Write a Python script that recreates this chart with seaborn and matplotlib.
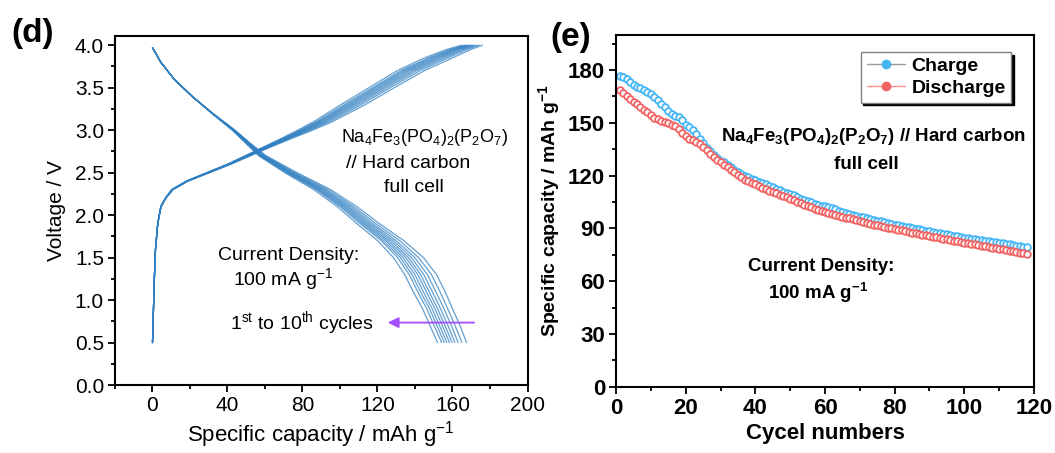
import numpy as np
import pandas as pd
import matplotlib
matplotlib.use('Agg')
import matplotlib.pyplot as plt
from matplotlib.lines import Line2D
from matplotlib.ticker import MultipleLocator
from matplotlib.font_manager import FontProperties
import seaborn as sns

# ---------------- data: panel (d) galvanostatic curves, cycles 1..10 ----------------
v_charge = [0.50, 0.80, 1.20, 1.60, 1.90, 2.10, 2.20, 2.30, 2.40, 2.50, 2.60,
            2.70, 2.80, 2.90, 3.00, 3.10, 3.30, 3.50, 3.70, 3.85, 3.95, 4.00]
cap_charge = [
    [0, 0.4, 0.9, 1.6, 2.8, 4.6, 7.2, 11.0, 19.0, 30.5, 42.0, 52.5, 63.0, 74.0, 85.5, 96.0, 113.5, 129.0, 145.0, 160.0, 170.0, 176.0],
    [0, 0.4, 0.9, 1.6, 2.8, 4.6, 7.1, 10.9, 18.8, 30.3, 41.7, 52.0, 62.4, 73.1, 84.2, 94.4, 111.4, 126.8, 142.7, 157.6, 167.9, 174.2],
    [0, 0.4, 0.9, 1.6, 2.8, 4.5, 7.1, 10.8, 18.7, 30.1, 41.4, 51.6, 61.8, 72.4, 83.2, 93.1, 109.7, 125.1, 140.8, 155.7, 166.2, 172.8],
    [0, 0.4, 0.9, 1.6, 2.8, 4.5, 7.0, 10.7, 18.6, 29.9, 41.2, 51.3, 61.4, 71.8, 82.3, 92.0, 108.3, 123.6, 139.2, 154.0, 164.8, 171.6],
    [0, 0.4, 0.9, 1.6, 2.8, 4.5, 7.0, 10.6, 18.5, 29.8, 41.0, 51.0, 61.0, 71.3, 81.5, 91.0, 107.0, 122.3, 137.8, 152.5, 163.5, 170.5],
    [0, 0.4, 0.9, 1.6, 2.8, 4.5, 7.0, 10.5, 18.4, 29.6, 40.8, 50.7, 60.6, 70.8, 80.8, 90.1, 105.8, 121.0, 136.4, 151.2, 162.3, 169.5],
    [0, 0.4, 0.9, 1.6, 2.8, 4.5, 6.9, 10.5, 18.3, 29.5, 40.6, 50.5, 60.3, 70.3, 80.1, 89.2, 104.7, 119.8, 135.1, 149.8, 161.2, 168.5],
    [0, 0.4, 0.9, 1.6, 2.8, 4.4, 6.9, 10.4, 18.2, 29.3, 40.5, 50.2, 59.9, 69.8, 79.3, 88.3, 103.5, 118.6, 133.8, 148.5, 160.0, 167.5],
    [0, 0.4, 0.9, 1.6, 2.8, 4.4, 6.9, 10.3, 18.1, 29.2, 40.3, 49.9, 59.6, 69.3, 78.6, 87.4, 102.3, 117.4, 132.5, 147.1, 158.8, 166.5],
    [0, 0.4, 0.9, 1.6, 2.8, 4.4, 6.8, 10.2, 18.0, 29.0, 40.0, 49.5, 59.0, 68.5, 77.5, 86.0, 100.5, 115.5, 130.5, 145.0, 157.0, 165.0],
]

v_discharge = [3.97, 3.80, 3.60, 3.40, 3.20, 3.00, 2.85, 2.70, 2.50, 2.30,
               2.10, 1.90, 1.70, 1.50, 1.30, 1.10, 0.90, 0.70, 0.50]
cap_discharge = [
    [0, 4.4, 11.5, 21.0, 32.0, 44.0, 52.0, 60.5, 77.0, 95.0, 109.0, 121.0, 134.0, 144.5, 151.5, 156.0, 160.0, 164.0, 167.5],
    [0, 4.4, 11.5, 21.0, 31.9, 43.8, 51.6, 59.8, 75.9, 93.6, 107.3, 119.1, 131.8, 141.9, 148.8, 153.3, 157.4, 161.4, 165.0],
    [0, 4.4, 11.5, 21.0, 31.9, 43.6, 51.3, 59.3, 75.0, 92.4, 106.0, 117.5, 129.9, 139.9, 146.6, 151.1, 155.4, 159.4, 163.0],
    [0, 4.4, 11.5, 21.0, 31.8, 43.4, 51.0, 58.9, 74.2, 91.4, 104.8, 116.2, 128.4, 138.1, 144.7, 149.2, 153.6, 157.6, 161.3],
    [0, 4.4, 11.5, 21.0, 31.8, 43.3, 50.8, 58.5, 73.7, 90.5, 103.8, 115.0, 127.0, 136.5, 143.0, 147.5, 152.0, 156.0, 159.8],
    [0, 4.4, 11.5, 21.0, 31.7, 43.1, 50.6, 58.1, 73.1, 89.7, 102.8, 113.9, 125.7, 135.1, 141.5, 146.0, 150.6, 154.6, 158.4],
    [0, 4.4, 11.5, 21.0, 31.7, 43.0, 50.4, 57.8, 72.5, 88.9, 101.9, 112.8, 124.5, 133.6, 139.9, 144.4, 149.1, 153.1, 157.0],
    [0, 4.4, 11.5, 21.0, 31.6, 42.8, 50.1, 57.4, 71.9, 88.1, 100.9, 111.8, 123.2, 132.2, 138.4, 142.9, 147.7, 151.7, 155.6],
    [0, 4.4, 11.5, 21.0, 31.6, 42.7, 49.9, 57.0, 71.3, 87.3, 100.0, 110.7, 122.0, 130.7, 136.9, 141.4, 146.2, 150.2, 154.2],
    [0, 4.4, 11.5, 21.0, 31.5, 42.5, 49.5, 56.5, 70.5, 86.0, 98.5, 109.0, 120.0, 128.5, 134.5, 139.0, 144.0, 148.0, 152.0],
]

# ---------------- data: panel (e) cycling, cycles 1..118 ----------------
cycles = list(range(1, 119))
charge_cap = [
    176.5, 175.8, 175.0, 173.5, 171.5, 170.5, 169.8, 168.8, 167.5, 166.3,
    164.5, 162.8, 161.0, 159.0, 157.0, 155.0, 154.0, 153.3, 151.5, 149.0,
    147.5, 146.0, 143.5, 141.0, 138.5, 136.0, 134.0, 132.0, 130.0, 128.5,
    127.5, 126.2, 125.0, 123.5, 122.0, 121.0, 120.0, 119.0, 118.0, 117.3,
    116.5, 115.8, 115.0, 114.0, 113.3, 112.5, 111.8, 111.0, 110.2, 109.5,
    108.8, 108.0, 107.0, 106.3, 105.5, 104.8, 104.0, 103.5, 103.0, 102.5,
    102.0, 101.5, 100.8, 100.0, 99.5, 99.0, 98.4, 97.8, 97.3, 96.8,
    96.3, 95.8, 95.3, 94.8, 94.4, 94.0, 93.5, 93.0, 92.6, 92.2,
    91.8, 91.4, 91.0, 90.6, 90.2, 89.8, 89.5, 89.1, 88.8, 88.4,
    88.0, 87.6, 87.3, 86.9, 86.6, 86.2, 85.9, 85.5, 85.2, 84.8,
    84.5, 84.2, 83.9, 83.6, 83.3, 83.0, 82.7, 82.4, 82.1, 81.8,
    81.5, 81.2, 80.9, 80.6, 80.3, 80.0, 79.7, 79.3,
]
discharge_cap = [
    168.5, 167.0, 165.0, 163.5, 162.0, 160.5, 159.0, 157.5, 156.0, 154.5,
    153.0, 152.0, 151.2, 150.5, 149.8, 149.0, 148.0, 146.5, 144.5, 142.5,
    141.0, 140.0, 139.0, 138.0, 136.5, 134.5, 132.5, 130.5, 129.0, 127.5,
    126.3, 125.0, 123.5, 122.0, 120.5, 119.0, 117.8, 116.8, 116.0, 115.0,
    114.0, 113.2, 112.5, 111.5, 110.7, 110.0, 109.2, 108.4, 107.6, 106.8,
    106.0, 105.2, 104.4, 103.6, 102.8, 102.0, 101.2, 100.6, 100.0, 99.5,
    99.0, 98.5, 97.9, 97.3, 96.7, 96.2, 95.7, 95.1, 94.6, 94.1,
    93.6, 93.1, 92.6, 92.1, 91.7, 91.3, 90.9, 90.5, 90.1, 89.7,
    89.3, 88.9, 88.5, 88.1, 87.7, 87.3, 86.9, 86.5, 86.1, 85.7,
    85.3, 84.9, 84.5, 84.1, 83.8, 83.4, 83.0, 82.6, 82.3, 81.9,
    81.6, 81.2, 80.9, 80.5, 80.2, 79.8, 79.5, 79.1, 78.8, 78.4,
    78.1, 77.7, 77.4, 77.0, 76.7, 76.3, 76.0, 75.6,
]

# ---------------- style ----------------
sns.set_style('ticks')
plt.rcParams['font.family'] = ['Liberation Sans', 'DejaVu Sans']
plt.rcParams['mathtext.default'] = 'regular'
plt.rcParams['axes.linewidth'] = 1.5
for k in ['text.color', 'axes.labelcolor', 'xtick.color', 'ytick.color', 'axes.edgecolor']:
    plt.rcParams[k] = 'black'

curve_col = '#2f7fc1'
ch_col = '#45b5f5'
dis_col = '#f26363'

# long table for the voltage profiles
rows = []
for i in range(10):
    for c, v in zip(cap_charge[i], v_charge):
        rows.append({'cap': c, 'V': v, 'curve': f'c{i+1}'})
    for c, v in zip(cap_discharge[i], v_discharge):
        rows.append({'cap': c, 'V': v, 'curve': f'd{i+1}'})
df_v = pd.DataFrame(rows)

df_cyc = pd.DataFrame({
    'cycle': cycles * 2,
    'capacity': charge_cap + discharge_cap,
    'series': ['Charge'] * len(cycles) + ['Discharge'] * len(cycles),
})

fig = plt.figure(figsize=(10.55, 4.53), dpi=100)
ax1 = fig.add_axes([0.109, 0.150, 0.391, 0.771])
ax2 = fig.add_axes([0.584, 0.146, 0.396, 0.777])

# ---------------- panel (d) ----------------
sns.lineplot(data=df_v, x='cap', y='V', units='curve', estimator=None, sort=False,
             color=curve_col, lw=0.9, alpha=0.75, ax=ax1)
ax1.set_xlim(-20, 200)
ax1.set_ylim(0, 4.11)
ax1.xaxis.set_major_locator(MultipleLocator(40))
ax1.xaxis.set_minor_locator(MultipleLocator(20))
ax1.yaxis.set_major_locator(MultipleLocator(0.5))
ax1.yaxis.set_minor_locator(MultipleLocator(0.25))
ax1.set_xlabel('Specific capacity / mAh g$^{-1}$', fontsize=16, labelpad=3)
ax1.set_ylabel('Voltage / V', fontsize=15, labelpad=6)

ax1.text(145, 2.91, 'Na$_4$Fe$_3$(PO$_4$)$_2$(P$_2$O$_7$)', fontsize=13, ha='center', va='center')
ax1.text(103, 2.61, '// Hard carbon', fontsize=14, ha='left', va='center')
ax1.text(139.5, 2.32, 'full cell', fontsize=14, ha='center', va='center')
ax1.text(72.7, 1.53, 'Current Density:', fontsize=14, ha='center', va='center')
ax1.text(69.6, 1.25, '100 mA g$^{-1}$', fontsize=14, ha='center', va='center')
ax1.text(79.8, 0.73, '1$^{st}$ to 10$^{th}$ cycles', fontsize=14, ha='center', va='center')
ax1.annotate('', xy=(124, 0.735), xytext=(173, 0.735),
             arrowprops=dict(arrowstyle='-|>', color='#a64dff', lw=1.3, mutation_scale=16))

# ---------------- panel (e) ----------------
for name, col in [('Charge', ch_col), ('Discharge', dis_col)]:
    sub = df_cyc[df_cyc['series'] == name]
    sns.lineplot(data=sub, x='cycle', y='capacity', color=col, lw=0.8,
                 marker='o', markersize=4.8, markerfacecolor='white',
                 markeredgecolor=col, markeredgewidth=1.3, ax=ax2)
ax2.set_xlim(0, 120)
ax2.set_ylim(0, 200)
ax2.xaxis.set_major_locator(MultipleLocator(20))
ax2.xaxis.set_minor_locator(MultipleLocator(10))
ax2.yaxis.set_major_locator(MultipleLocator(30))
ax2.yaxis.set_minor_locator(MultipleLocator(15))
ax2.set_xlabel('Cycel numbers', fontsize=16, fontweight='bold', labelpad=3)
ax2.set_ylabel('Specific capacity / mAh g$^{-1}$', fontsize=14, fontweight='bold', labelpad=4)

ax2.text(74, 142.4, 'Na$_4$Fe$_3$(PO$_4$)$_2$(P$_2$O$_7$) // Hard carbon', fontsize=13.5,
         fontweight='bold', ha='center', va='center')
ax2.text(72, 126.5, 'full cell', fontsize=13.5, fontweight='bold', ha='center', va='center')
ax2.text(59, 68.3, 'Current Density:', fontsize=13.5, fontweight='bold', ha='center', va='center')
ax2.text(58, 53.5, '100 mA g$^{-1}$', fontsize=13.5, fontweight='bold', ha='center', va='center')

handles = [
    Line2D([], [], color='#9a9a9a', lw=1, marker='o', ms=6, mfc=ch_col, mec=ch_col),
    Line2D([], [], color='#ff8a8a', lw=1, marker='o', ms=6, mfc=dis_col, mec=dis_col),
]
leg_font = FontProperties(family=['Liberation Sans', 'DejaVu Sans'], weight='bold', size=14)
leg = ax2.legend(handles, ['Charge', 'Discharge'], loc='upper right',
                 bbox_to_anchor=(0.946, 0.952), frameon=True, fancybox=False,
                 shadow={'color': 'black', 'alpha': 1.0}, edgecolor='#808080',
                 prop=leg_font, handlelength=2.0,
                 handletextpad=0.3, borderpad=0.3, labelspacing=0.2, borderaxespad=0)
leg.get_frame().set_linewidth(1.0)

for ax in (ax1, ax2):
    ax.tick_params(which='both', direction='out', top=False, right=False, width=1.3)
    ax.tick_params(which='major', length=5, pad=3)
    ax.tick_params(which='minor', length=3)
    for s in ax.spines.values():
        s.set_visible(True)
        s.set_linewidth(1.5)
        s.set_color('black')

ax1.tick_params(which='major', labelsize=15)
ax2.tick_params(which='major', labelsize=16)
for lab in ax2.get_xticklabels() + ax2.get_yticklabels():
    lab.set_fontweight('bold')

fig.text(0.011, 0.925, '(d)', fontsize=24, fontweight='bold', ha='left', va='center')
fig.text(0.522, 0.918, '(e)', fontsize=24, fontweight='bold', ha='left', va='center')

fig.savefig('out.png', dpi=100)
